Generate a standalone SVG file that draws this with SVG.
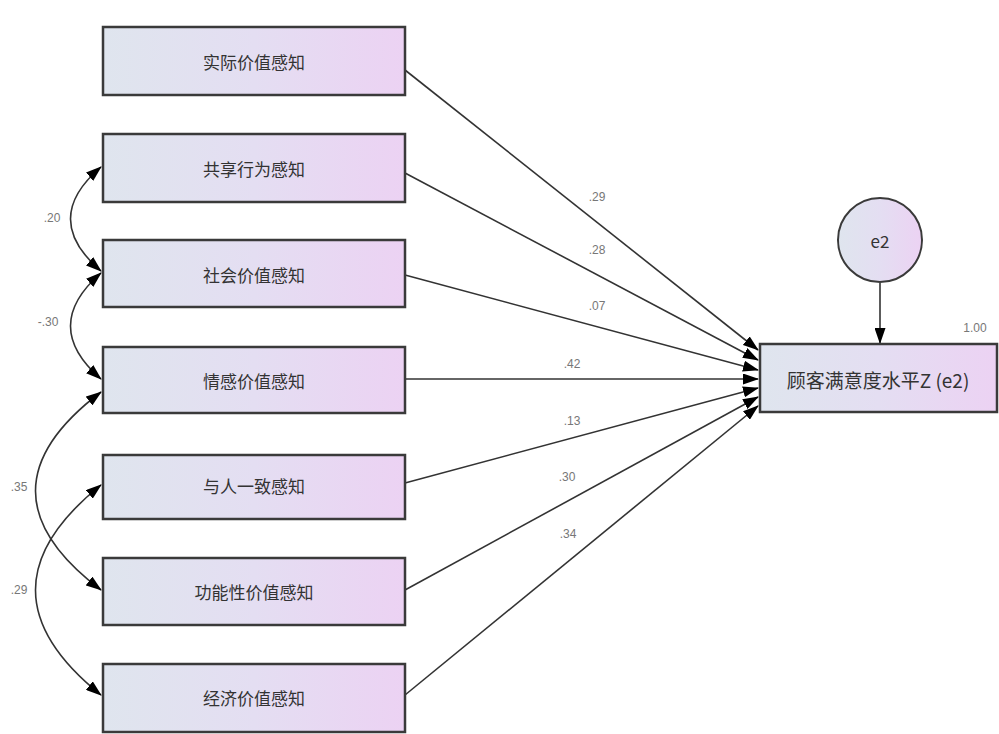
<svg xmlns="http://www.w3.org/2000/svg" width="999" height="734" viewBox="0 0 999 734">
<defs>
<linearGradient id="g" x1="0" y1="0" x2="1" y2="0">
<stop offset="0" stop-color="#dfe5ee"/>
<stop offset="0.5" stop-color="#e4def2"/>
<stop offset="1" stop-color="#ecd2f3"/>
</linearGradient>
<marker id="ah" markerWidth="16" markerHeight="11" refX="15" refY="5.5" orient="auto" markerUnits="userSpaceOnUse">
<path d="M0,0 L16,5.5 L0,11 z" fill="#000"/>
</marker>
<marker id="ahs" markerWidth="16" markerHeight="11" refX="1" refY="5.5" orient="auto" markerUnits="userSpaceOnUse">
<path d="M16,0 L0,5.5 L16,11 z" fill="#000"/>
</marker>
<style>
.box{fill:url(#g);stroke:#3a3a3a;stroke-width:2.5}
.t{font-family:"Noto Sans CJK SC","Liberation Sans",sans-serif;font-size:17px;fill:#333;text-anchor:middle;dominant-baseline:central}
.tt{font-family:"Noto Sans CJK SC","Liberation Sans",sans-serif;font-size:19px;fill:#333;text-anchor:middle;dominant-baseline:central}
.n{font-family:"Liberation Sans",sans-serif;font-size:12px;fill:#777;text-anchor:middle;dominant-baseline:central}
.p{fill:none;stroke:#333;stroke-width:1.6;marker-end:url(#ah)}
.c{fill:none;stroke:#333;stroke-width:1.6;marker-end:url(#ah);marker-start:url(#ahs)}
</style>
</defs>
<rect width="999" height="734" fill="#fff"/>

<g id="connectors">
<path class="p" d="M405,70 L758,350"/>
<path class="p" d="M405,173 L758,360"/>
<path class="p" d="M405,275 L758,370"/>
<path class="p" d="M405,379 L758,379"/>
<path class="p" d="M405,483 L758,388"/>
<path class="p" d="M405,590 L758,397"/>
<path class="p" d="M405,695 L758,406"/>
<path class="p" d="M880,283 L880,343"/>
<path class="c" d="M101,167 Q40,219 101,271"/>
<path class="c" d="M101,273 Q40,326 101,379"/>
<path class="c" d="M101,392 Q-30,491 101,590"/>
<path class="c" d="M101,485 Q-30,590 101,695"/>
<text class="n" x="597" y="197">.29</text>
<text class="n" x="597" y="250">.28</text>
<text class="n" x="597" y="306">.07</text>
<text class="n" x="572" y="364">.42</text>
<text class="n" x="572" y="421">.13</text>
<text class="n" x="567" y="477">.30</text>
<text class="n" x="568" y="534">.34</text>
<text class="n" x="52" y="218">.20</text>
<text class="n" x="48" y="322">-.30</text>
<text class="n" x="19" y="487">.35</text>
<text class="n" x="19" y="590">.29</text>
<text class="n" x="975" y="328">1.00</text>
</g>

<g id="n1"><rect class="box" x="103" y="27" width="302" height="68"/><text class="t" x="254" y="61">实际价值感知</text></g>
<g id="n2"><rect class="box" x="103" y="134" width="302" height="68"/><text class="t" x="254" y="168">共享行为感知</text></g>
<g id="n3"><rect class="box" x="103" y="240" width="302" height="67"/><text class="t" x="254" y="274">社会价值感知</text></g>
<g id="n4"><rect class="box" x="103" y="347" width="302" height="66"/><text class="t" x="254" y="380">情感价值感知</text></g>
<g id="n5"><rect class="box" x="103" y="455" width="302" height="64"/><text class="t" x="254" y="485">与人一致感知</text></g>
<g id="n6"><rect class="box" x="103" y="558" width="302" height="67"/><text class="t" x="254" y="591">功能性价值感知</text></g>
<g id="n7"><rect class="box" x="103" y="664" width="302" height="68"/><text class="t" x="254" y="697">经济价值感知</text></g>
<g id="target"><rect class="box" x="760" y="344" width="237" height="68"/><text class="tt" x="878" y="379">顾客满意度水平Z (e2)</text></g>
<g id="e2"><circle cx="880" cy="240" r="42" fill="url(#g)" stroke="#3a3a3a" stroke-width="2"/><text class="t" x="880" y="240">e2</text></g>
</svg>
